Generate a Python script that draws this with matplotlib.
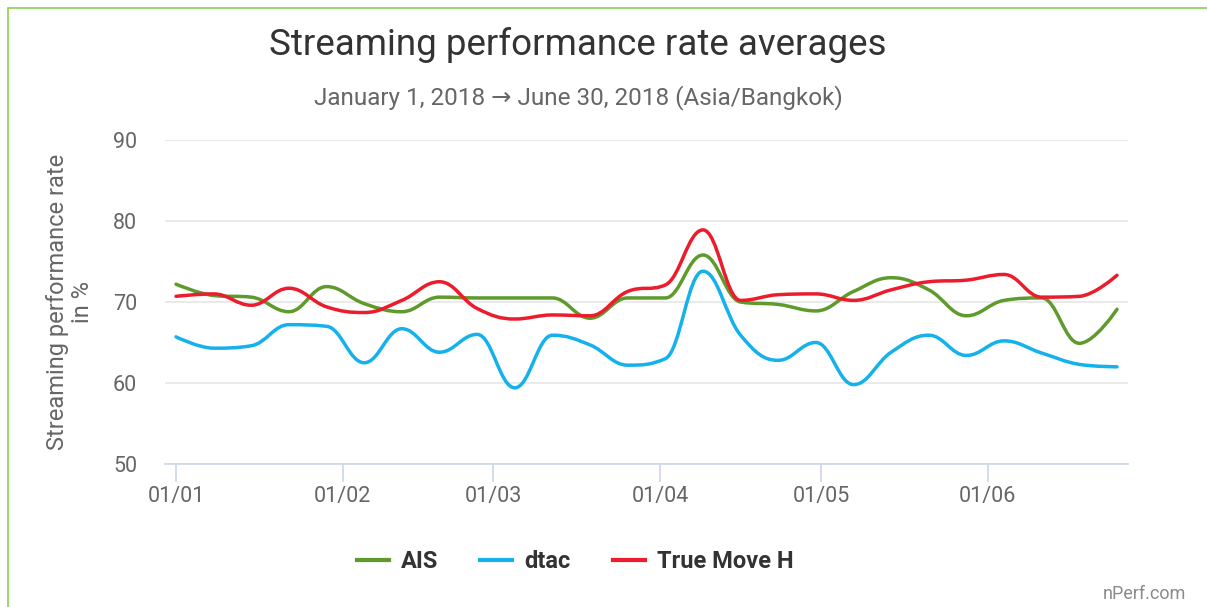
import numpy as np
import matplotlib.pyplot as plt
from matplotlib.path import Path
from matplotlib.patches import PathPatch, Rectangle
from matplotlib.lines import Line2D

plt.rcParams['font.family'] = ['Roboto', 'DejaVu Sans']

# weekly samples, day offsets from 1 Jan 2018
days = [7 * i for i in range(26)]
ais = [72.2, 70.8, 70.6, 68.8, 71.9, 69.8, 68.8, 70.6, 70.5, 70.5, 70.5, 68.0, 70.5,
       70.5, 75.8, 70.0, 69.7, 68.9, 71.3, 73.0, 71.5, 68.3, 70.2, 70.5, 64.9, 69.1]
dtac = [65.7, 64.3, 64.6, 67.2, 67.0, 62.5, 66.7, 63.8, 66.0, 59.4, 65.9, 64.7, 62.2,
        63.0, 73.8, 65.9, 62.8, 65.0, 59.8, 63.8, 65.9, 63.4, 65.2, 63.7, 62.3, 62.0]
truemove = [70.7, 71.0, 69.6, 71.7, 69.4, 68.7, 70.2, 72.5, 69.2, 67.9, 68.4, 68.3, 71.3,
            72.1, 78.9, 70.2, 70.9, 71.0, 70.2, 71.5, 72.5, 72.7, 73.4, 70.6, 70.7, 73.3]

month_days = [0, 31, 59, 90, 120, 151]
month_labels = ['01/01', '01/02', '01/03', '01/04', '01/05', '01/06']

series = [('AIS', ais, '#5f9a2c'), ('dtac', dtac, '#14b1ec'), ('True Move H', truemove, '#ec1c2c')]


def spline_path(x, y, smoothing=1.5):
    # highcharts-style spline control points
    denom = smoothing + 1
    n = len(x)
    verts = [(x[0], y[0])]
    codes = [Path.MOVETO]
    conts = []
    for i in range(n):
        if i == 0 or i == n - 1:
            conts.append(((x[i], y[i]), (x[i], y[i])))
            continue
        lx = (smoothing * x[i] + x[i - 1]) / denom
        ly = (smoothing * y[i] + y[i - 1]) / denom
        rx = (smoothing * x[i] + x[i + 1]) / denom
        ry = (smoothing * y[i] + y[i + 1]) / denom
        if rx != lx:
            corr = (ry - ly) * (rx - x[i]) / (rx - lx) + y[i] - ry
            ly += corr
            ry += corr
        if ly > y[i - 1] and ly > y[i]:
            ly = max(y[i - 1], y[i]); ry = 2 * y[i] - ly
        elif ly < y[i - 1] and ly < y[i]:
            ly = min(y[i - 1], y[i]); ry = 2 * y[i] - ly
        if ry > y[i + 1] and ry > y[i]:
            ry = max(y[i + 1], y[i]); ly = 2 * y[i] - ry
        elif ry < y[i + 1] and ry < y[i]:
            ry = min(y[i + 1], y[i]); ly = 2 * y[i] - ry
        conts.append(((lx, ly), (rx, ry)))
    for i in range(1, n):
        verts += [conts[i - 1][1], conts[i][0], (x[i], y[i])]
        codes += [Path.CURVE4] * 3
    return Path(verts, codes)


fig = plt.figure(figsize=(12.07, 6.07), dpi=100)
fig.patches.append(Rectangle((8 / 1207, -0.1), 1.2, (607 - 8) / 607 + 0.1,
                             transform=fig.transFigure, fill=False,
                             edgecolor='#8cd054', linewidth=1.2))

ax = fig.add_axes([165 / 1207, 1 - 464 / 607, (1128 - 165) / 1207, (464 - 140) / 607])
for name, vals, col in series:
    ax.add_patch(PathPatch(spline_path(days, vals), facecolor='none', edgecolor=col,
                           linewidth=2.5, capstyle='round', joinstyle='round'))

ax.set_xlim(-2.05, 177.05)
ax.set_ylim(50, 90)
ax.set_yticks([50, 60, 70, 80, 90])
ax.set_xticks(month_days)
ax.set_xticklabels(month_labels)
ax.grid(axis='y', color='#e6e6e6', linewidth=1.2)
ax.set_axisbelow(True)
for s in ['top', 'right', 'left']:
    ax.spines[s].set_visible(False)
ax.spines['bottom'].set_color('#ccd6eb')
ax.spines['bottom'].set_linewidth(1.2)
ax.tick_params(axis='y', length=0, pad=20, labelsize=15.5, labelcolor='#666666')
ax.tick_params(axis='x', length=13, width=1.2, color='#ccd6eb', pad=3, labelsize=15.5,
               labelcolor='#666666')
ax.set_ylabel('Streaming performance rate\nin %', fontsize=17, color='#666666', labelpad=14,
              linespacing=1.1)

fig.text(578 / 1207, 1 - 45 / 607, 'Streaming performance rate averages', ha='center', va='center',
         fontsize=26.5, color='#333333')
fig.text(578 / 1207, 1 - 98 / 607, 'January 1, 2018 \u2192 June 30, 2018 (Asia/Bangkok)',
         ha='center', va='center', fontsize=17.5, color='#666666')

handles = [Line2D([], [], color=c, linewidth=3) for _, _, c in series]
fig.legend(handles, [n for n, _, _ in series], loc='center', bbox_to_anchor=(575 / 1207, 1 - 562 / 607),
           ncol=3, frameon=False, handlelength=1.36, handletextpad=0.5, columnspacing=1.8,
           prop={'weight': 'bold', 'size': 17}, labelcolor='#333333')
fig.text(1186 / 1207, 1 - 594 / 607, 'nPerf.com', ha='right', va='center', fontsize=13, color='#8a8a8a')

fig.savefig('out.png', dpi=100)
